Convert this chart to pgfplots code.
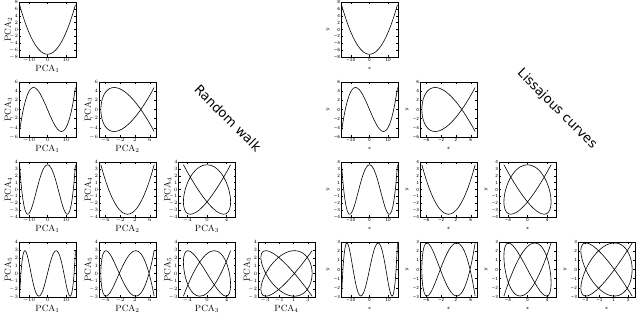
\documentclass[border=0pt]{standalone}
\usepackage{fontspec}
\usepackage{pgfplots}
\usepackage{pgfplotstable}
\pgfplotsset{compat=1.18}
\newfontfamily\dejavu{DejaVu Sans}

\pgfplotstableread{
k p1 p2 p3 p4 p5
0 15 7.2 4.8 3.6 2.9
1 14.979 7.160 4.741 3.521 2.801
2 14.918 7.042 4.565 3.289 2.511
3 14.816 6.848 4.277 2.912 2.051
4 14.672 6.577 3.883 2.409 1.45
5 14.489 6.235 3.394 1.8 0.751
6 14.267 5.825 2.821 1.112 0
7 14.004 5.350 2.179 0.376 -0.751
8 13.703 4.818 1.483 -0.376 -1.45
9 13.365 4.232 0.751 -1.112 -2.051
10 12.99 3.6 0 -1.8 -2.511
11 12.581 2.928 -0.751 -2.409 -2.801
12 12.135 2.225 -1.483 -2.912 -2.9
13 11.657 1.497 -2.179 -3.289 -2.801
14 11.147 0.752 -2.821 -3.521 -2.511
15 10.607 0 -3.394 -3.6 -2.051
16 10.037 -0.752 -3.883 -3.521 -1.45
17 9.440 -1.497 -4.277 -3.289 -0.751
18 8.817 -2.225 -4.565 -2.912 0
19 8.169 -2.928 -4.741 -2.409 0.751
20 7.5 -3.6 -4.8 -1.8 1.45
21 6.81 -4.232 -4.741 -1.112 2.051
22 6.101 -4.818 -4.565 -0.376 2.511
23 5.376 -5.350 -4.277 0.376 2.801
24 4.635 -5.825 -3.883 1.112 2.9
25 3.882 -6.235 -3.394 1.8 2.801
26 3.119 -6.577 -2.821 2.409 2.511
27 2.346 -6.848 -2.179 2.912 2.051
28 1.568 -7.042 -1.483 3.289 1.45
29 0.785 -7.160 -0.751 3.521 0.751
30 0 -7.2 0 3.6 0
31 -0.785 -7.160 0.751 3.521 -0.751
32 -1.568 -7.042 1.483 3.289 -1.45
33 -2.346 -6.848 2.179 2.912 -2.051
34 -3.119 -6.577 2.821 2.409 -2.511
35 -3.882 -6.235 3.394 1.8 -2.801
36 -4.635 -5.825 3.883 1.112 -2.9
37 -5.376 -5.350 4.277 0.376 -2.801
38 -6.101 -4.818 4.565 -0.376 -2.511
39 -6.81 -4.232 4.741 -1.112 -2.051
40 -7.5 -3.6 4.8 -1.8 -1.45
41 -8.169 -2.928 4.741 -2.409 -0.751
42 -8.817 -2.225 4.565 -2.912 0
43 -9.440 -1.497 4.277 -3.289 0.751
44 -10.037 -0.752 3.883 -3.521 1.45
45 -10.607 0 3.394 -3.6 2.051
46 -11.147 0.752 2.821 -3.521 2.511
47 -11.657 1.497 2.179 -3.289 2.801
48 -12.135 2.225 1.483 -2.912 2.9
49 -12.581 2.928 0.751 -2.409 2.801
50 -12.99 3.6 0 -1.8 2.511
51 -13.365 4.232 -0.751 -1.112 2.051
52 -13.703 4.818 -1.483 -0.376 1.45
53 -14.004 5.350 -2.179 0.376 0.751
54 -14.267 5.825 -2.821 1.112 0
55 -14.489 6.235 -3.394 1.8 -0.751
56 -14.672 6.577 -3.883 2.409 -1.45
57 -14.816 6.848 -4.277 2.912 -2.051
58 -14.918 7.042 -4.565 3.289 -2.511
59 -14.979 7.160 -4.741 3.521 -2.801
60 -15 7.2 -4.8 3.6 -2.9
}\datatab

\pgfplotsset{
  panel/.style={scale only axis, width=57pt, height=55pt, anchor=south west,
    tick align=inside, major tick length=2pt,
    axis line style={line width=0.5pt},
    every tick/.style={black, line width=0.4pt},
    xticklabel style={inner sep=1pt}, yticklabel style={inner sep=0.8pt}},
  curve/.style={black, line width=0.6pt, smooth, no markers},
  rw/.style={tick label style={font=\fontsize{4.2}{5}\selectfont},
    label style={font=\fontsize{9}{10}\selectfont},
    xlabel style={yshift=2pt},
    ylabel style={at={(axis description cs:-0.19,0.5)}, anchor=center, rotate=0}},
  lj/.style={tick label style={font=\dejavu\fontsize{4.2}{5}\selectfont},
    label style={font=\fontsize{5}{6}\selectfont},
    xlabel style={yshift=-1pt}},
  rwx1/.style={xmin=-15.3,xmax=15.3,xtick={-10,0,10}},
  rwx2/.style={xmin=-7.7,xmax=7.7,xtick={-6,-2,2,6}},
  rwx3/.style={xmin=-5.8,xmax=5.8,xtick={-4,0,4}},
  rwx4/.style={xmin=-4,xmax=4,xtick={-3,-1,1,3}},
  rwy2/.style={ymin=-8,ymax=8,ytick={-8,-6,...,8}},
  rwy3/.style={ymin=-6,ymax=6,ytick={-6,-4,...,6}},
  rwy4/.style={ymin=-4,ymax=4,ytick={-4,...,4}},
  rwy5/.style={ymin=-3,ymax=4,ytick={-3,...,4}},
  ljx1/.style={rwx1, xticklabels={−10,0,10}},
  ljx2/.style={rwx2, xticklabels={−6,−2,2,6}},
  ljx3/.style={rwx3, xticklabels={−4,0,4}},
  ljx4/.style={rwx4, xticklabels={−3,−1,1,3}},
  ljy2/.style={rwy2, yticklabels={−8,−6,−4,−2,0,2,4,6,8}},
  ljy3/.style={rwy3, yticklabels={−6,−4,−2,0,2,4,6}},
  ljy4/.style={rwy4, yticklabels={−4,−3,−2,−1,0,1,2,3,4}},
  ljy5/.style={ymin=-3,ymax=3,ytick={-3,...,3}, yticklabels={−3,−2,−1,0,1,2,3}},
}

\newcommand{\rwp}[4]{%
  \begin{axis}[panel, rw, at={(#1pt,#2pt)}, rwx#3, rwy#4,
    xlabel={PCA$_{#3}$}, ylabel={PCA$_{#4}$}]
  \addplot[curve] table[x=p#3,y=p#4]{\datatab};
  \end{axis}}
\newcommand{\ljp}[4]{%
  \begin{axis}[panel, lj, at={(#1pt,#2pt)}, ljx#3, ljy#4,
    xlabel={$x$}, ylabel={$y$}]
  \addplot[curve] table[x=p#3,y=p#4]{\datatab};
  \end{axis}}

\begin{document}
\begin{tikzpicture}
\useasboundingbox (0,0) rectangle (640pt,314pt);
% Random walk grid
\rwp{19}{257}{1}{2}
\rwp{19}{177}{1}{3}
\rwp{99}{177}{2}{3}
\rwp{19}{97}{1}{4}
\rwp{99}{97}{2}{4}
\rwp{178.5}{97}{3}{4}
\rwp{19}{17}{1}{5}
\rwp{99}{17}{2}{5}
\rwp{178.5}{17}{3}{5}
\rwp{258}{17}{4}{5}
% Lissajous grid
\ljp{341}{257}{1}{2}
\ljp{341}{177}{1}{3}
\ljp{420}{177}{2}{3}
\ljp{341}{97}{1}{4}
\ljp{420}{97}{2}{4}
\ljp{499}{97}{3}{4}
\ljp{341}{17}{1}{5}
\ljp{420}{17}{2}{5}
\ljp{499}{17}{3}{5}
\ljp{578}{17}{4}{5}
\node[rotate=-45, font=\dejavu\fontsize{13}{13}\selectfont] at (228pt,196pt) {Random walk};
\node[rotate=-45, font=\dejavu\fontsize{13}{13}\selectfont] at (557pt,205pt) {Lissajous curves};
\end{tikzpicture}
\end{document}
